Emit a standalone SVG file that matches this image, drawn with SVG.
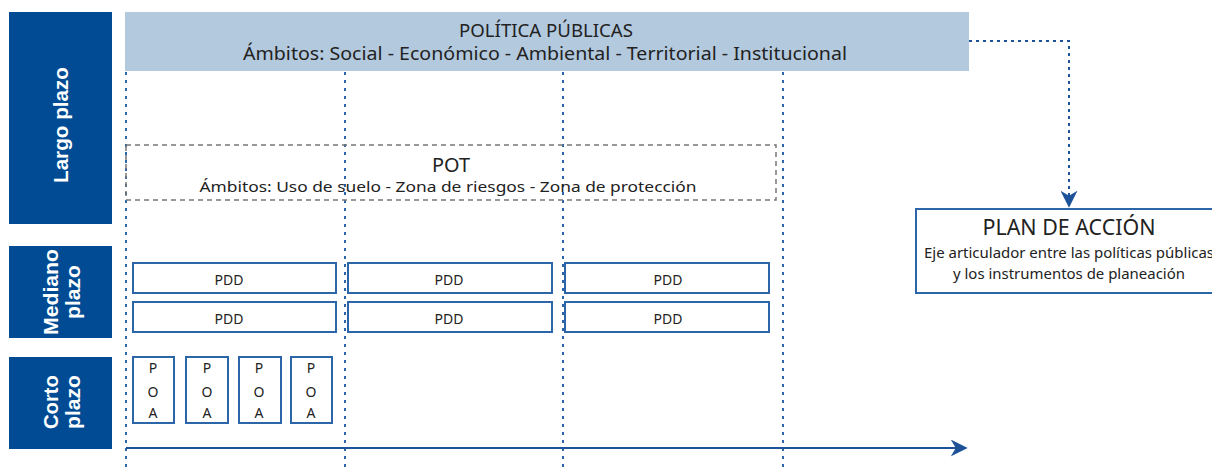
<svg xmlns="http://www.w3.org/2000/svg" width="1212" height="472" viewBox="0 0 1212 472">
<style>
.lbl{fill:#004b93}
.lt{font-family:"Liberation Sans",Arial,sans-serif;font-weight:bold;font-size:21px;fill:#fff;text-anchor:middle}
.t{font-family:"Noto Sans","Open Sans",sans-serif;fill:#222;text-anchor:middle}
.box{fill:#fff;stroke:#2d65a9;stroke-width:2}
.vd{stroke:#2d65a9;stroke-width:2;stroke-dasharray:3 5;fill:none}
</style>
<defs>
<marker id="ah" viewBox="0 0 10 10" refX="9" refY="5" markerWidth="17" markerHeight="17" markerUnits="userSpaceOnUse" orient="auto">
<path d="M0,0 L10,5 L0,10 L3,5 Z" fill="#1d5299"/>
</marker>
</defs>
<rect width="1212" height="472" fill="#fff"/>
<g id="largo"><rect class="lbl" x="9" y="12" width="103" height="212"/><text class="lt" transform="translate(68,125) rotate(-90)" textLength="116" lengthAdjust="spacingAndGlyphs">Largo plazo</text></g>
<g id="mediano"><rect class="lbl" x="9" y="246" width="103" height="92"/><text class="lt" transform="translate(58,292) rotate(-90)" textLength="86" lengthAdjust="spacingAndGlyphs">Mediano</text><text class="lt" transform="translate(80,292) rotate(-90)" textLength="54" lengthAdjust="spacingAndGlyphs">plazo</text></g>
<g id="corto"><rect class="lbl" x="9" y="357" width="103" height="92"/><text class="lt" transform="translate(58,402) rotate(-90)" textLength="54" lengthAdjust="spacingAndGlyphs">Corto</text><text class="lt" transform="translate(80,402) rotate(-90)" textLength="54" lengthAdjust="spacingAndGlyphs">plazo</text></g>
<g id="politicas"><rect x="125" y="12" width="844" height="59" fill="#b3c9de"/><text class="t" x="546" y="37" font-size="18" textLength="174" lengthAdjust="spacingAndGlyphs">POLÍTICA PÚBLICAS</text><text class="t" x="545" y="60" font-size="18" textLength="604" lengthAdjust="spacingAndGlyphs">Ámbitos: Social - Económico - Ambiental - Territorial - Institucional</text></g>
<g id="connectors">
<line class="vd" x1="126" y1="72" x2="126" y2="472"/>
<line class="vd" x1="345" y1="72" x2="345" y2="472"/>
<line class="vd" x1="563" y1="72" x2="563" y2="472"/>
<line class="vd" x1="783" y1="72" x2="783" y2="472"/>
<path d="M969,41 H1069 V206" fill="none" stroke="#1d5299" stroke-width="2" stroke-dasharray="3 4" marker-end="url(#ah)"/>
<line x1="126" y1="448" x2="966" y2="448" stroke="#1d5299" stroke-width="2" marker-end="url(#ah)"/>
</g>
<g id="pot"><rect x="126" y="145" width="650" height="55" fill="none" stroke="#777" stroke-width="1.5" stroke-dasharray="5 4"/><text class="t" x="451" y="172" font-size="19" textLength="38" lengthAdjust="spacingAndGlyphs">POT</text><text class="t" x="448" y="192" font-size="15" textLength="497" lengthAdjust="spacingAndGlyphs">Ámbitos: Uso de suelo - Zona de riesgos - Zona de protección</text></g>
<g id="pdd1"><rect class="box" x="133" y="263" width="203" height="30"/><text class="t" x="229" y="285" font-size="14">PDD</text></g>
<g id="pdd2"><rect class="box" x="348" y="263" width="204" height="30"/><text class="t" x="449" y="285" font-size="14">PDD</text></g>
<g id="pdd3"><rect class="box" x="565" y="263" width="204" height="30"/><text class="t" x="668" y="285" font-size="14">PDD</text></g>
<g id="pdd4"><rect class="box" x="133" y="302" width="203" height="30"/><text class="t" x="229" y="324" font-size="14">PDD</text></g>
<g id="pdd5"><rect class="box" x="348" y="302" width="204" height="30"/><text class="t" x="449" y="324" font-size="14">PDD</text></g>
<g id="pdd6"><rect class="box" x="565" y="302" width="204" height="30"/><text class="t" x="668" y="324" font-size="14">PDD</text></g>
<g id="poa1"><rect class="box" x="133" y="357" width="41" height="66"/><text class="t" font-size="14" x="153" y="373">P</text><text class="t" font-size="14" x="153" y="397">O</text><text class="t" font-size="14" x="153" y="418">A</text></g>
<g id="poa2"><rect class="box" x="186" y="357" width="42" height="66"/><text class="t" font-size="14" x="207" y="373">P</text><text class="t" font-size="14" x="207" y="397">O</text><text class="t" font-size="14" x="207" y="418">A</text></g>
<g id="poa3"><rect class="box" x="239" y="357" width="42" height="66"/><text class="t" font-size="14" x="259" y="373">P</text><text class="t" font-size="14" x="259" y="397">O</text><text class="t" font-size="14" x="259" y="418">A</text></g>
<g id="poa4"><rect class="box" x="291" y="357" width="41" height="66"/><text class="t" font-size="14" x="311" y="373">P</text><text class="t" font-size="14" x="311" y="397">O</text><text class="t" font-size="14" x="311" y="418">A</text></g>
<g id="plan"><rect class="box" x="916" y="209" width="310" height="84"/><text class="t" x="1069" y="235" font-size="21" textLength="173" lengthAdjust="spacingAndGlyphs">PLAN DE ACCIÓN</text><text class="t" x="1069" y="258" font-size="14" textLength="290" lengthAdjust="spacingAndGlyphs">Eje articulador entre las políticas públicas</text><text class="t" x="1069" y="279" font-size="14" textLength="232" lengthAdjust="spacingAndGlyphs">y los instrumentos de planeación</text></g>
</svg>
